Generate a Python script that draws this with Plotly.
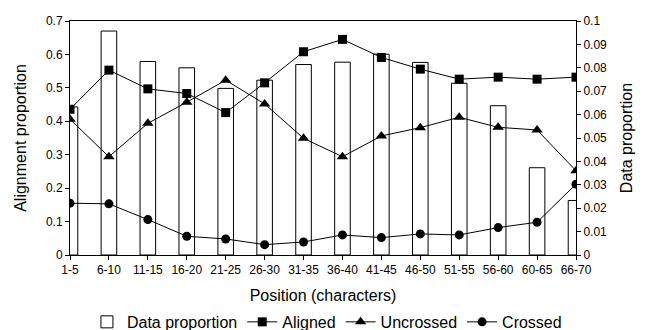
import plotly.graph_objects as go

categories = ["1-5", "6-10", "11-15", "16-20", "21-25", "26-30", "31-35",
              "36-40", "41-45", "46-50", "51-55", "56-60", "60-65", "66-70"]
data_proportion = [0.0633, 0.0957, 0.0827, 0.0800, 0.0712, 0.0747, 0.0814,
                   0.0824, 0.0858, 0.0823, 0.0734, 0.0638, 0.0373, 0.0233]
aligned = [0.436, 0.553, 0.497, 0.483, 0.426, 0.515, 0.608,
           0.645, 0.591, 0.556, 0.526, 0.532, 0.526, 0.532]
uncrossed = [0.406, 0.294, 0.394, 0.457, 0.523, 0.452, 0.349,
             0.294, 0.356, 0.381, 0.412, 0.382, 0.374, 0.252]
crossed = [0.155, 0.153, 0.106, 0.056, 0.048, 0.031, 0.039,
           0.060, 0.052, 0.063, 0.060, 0.082, 0.098, 0.212]

font = dict(family="Liberation Sans, Arial, sans-serif", color="black")
fig = go.Figure()
fig.add_trace(go.Bar(x=categories, y=data_proportion, name="Data proportion",
                     yaxis="y", width=0.4,
                     marker=dict(color="white", line=dict(color="black", width=1))))
line = dict(color="black", width=1)
fig.add_trace(go.Scatter(x=categories, y=aligned, name="Aligned", yaxis="y2",
                         mode="lines+markers", line=line,
                         marker=dict(symbol="square", size=9, color="black")))
fig.add_trace(go.Scatter(x=categories, y=uncrossed, name="Uncrossed", yaxis="y2",
                         mode="lines+markers", line=line,
                         marker=dict(symbol="triangle-up", size=10, color="black")))
fig.add_trace(go.Scatter(x=categories, y=crossed, name="Crossed", yaxis="y2",
                         mode="lines+markers", line=line,
                         marker=dict(symbol="circle", size=9, color="black")))

axis_common = dict(showgrid=False, zeroline=False, showline=True, linecolor="black",
                   linewidth=1, ticks="outside", ticklen=4, tickcolor="black",
                   automargin=True, tickfont=dict(size=12, **font))
# page body has an 8px margin, so the figure is drawn from (8, 8)
fig.update_layout(
    width=643, height=322,
    margin=dict(l=62, r=75, t=13, b=75, autoexpand=False),
    paper_bgcolor="white", plot_bgcolor="white",
    font=font,
    showlegend=True,
    xaxis=dict(type="category", range=[0, 13], mirror=True,
               title=dict(text="Position (characters)", font=dict(size=16, **font), standoff=13),
               **axis_common),
    yaxis=dict(side="right", range=[0, 0.1], dtick=0.01,
               title=dict(text="Data proportion", font=dict(size=16, **font), standoff=14),
               **axis_common),
    yaxis2=dict(side="left", overlaying="y", range=[0, 0.7], dtick=0.1,
                title=dict(text="Alignment proportion", font=dict(size=16, **font), standoff=15),
                **axis_common),
    legend=dict(orientation="h", x=0.496, xanchor="center", xref="container",
                y=0.025, yanchor="middle", yref="container",
                font=dict(size=16, **font), traceorder="normal",
                tracegroupgap=0, itemwidth=30),
)
fig.write_html("out.html")
